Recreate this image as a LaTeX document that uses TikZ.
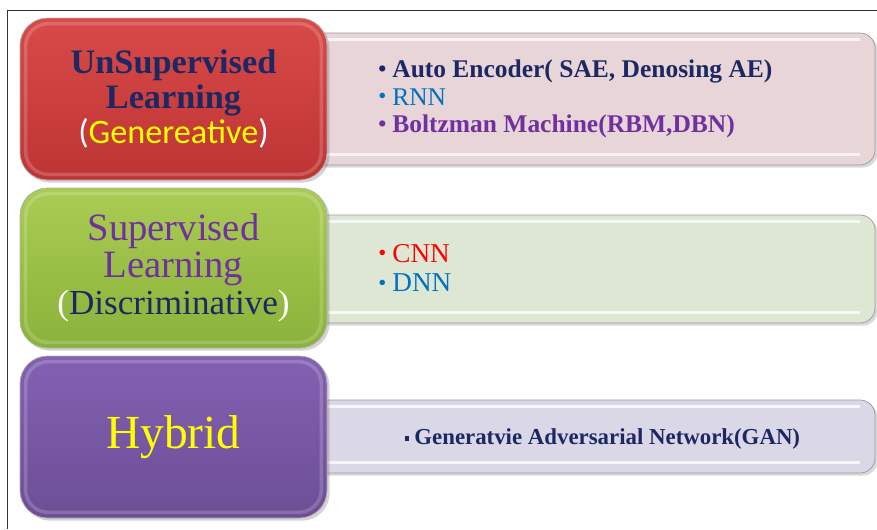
\documentclass[tikz,border=0pt]{standalone}
\usepackage{fontspec}
\setmainfont{Liberation Serif}
\newfontfamily\calibri{Carlito}
\usepackage{xcolor}
\usetikzlibrary{shadows}

\definecolor{navy}{RGB}{28,40,100}
\definecolor{txtblue}{RGB}{0,112,192}
\definecolor{txtpurple}{RGB}{112,48,160}
\definecolor{gelb}{RGB}{255,255,0}
\definecolor{redtop}{RGB}{216,74,72}
\definecolor{redbot}{RGB}{190,52,52}
\definecolor{greentop}{RGB}{170,204,84}
\definecolor{greenbot}{RGB}{138,178,58}
\definecolor{purpletop}{RGB}{132,96,178}
\definecolor{purplebot}{RGB}{108,78,150}
\definecolor{pinkfill}{RGB}{232,213,215}
\definecolor{sagefill}{RGB}{222,231,212}
\definecolor{lavfill}{RGB}{218,216,230}

% bullet item for the lists on the right
\newcommand{\dotitem}[1]{\makebox[0.28cm][l]{\raisebox{0.1ex}{\fontsize{13}{13}\selectfont\textbullet}}#1}

\begin{document}
\begin{tikzpicture}[every node/.style={inner sep=0pt}]
\tikzstyle{catbox}=[rounded corners=0.55cm, minimum width=6.14cm, minimum height=3.24cm, align=center, draw=black!30, drop shadow={opacity=0.35, shadow xshift=1.5pt, shadow yshift=-1.5pt}]
\tikzstyle{listbox}=[rounded corners=0.3cm, minimum width=11.5cm, draw=black!40, drop shadow={opacity=0.3, shadow xshift=1.5pt, shadow yshift=-1.5pt}]
\tikzstyle{items}=[align=left, anchor=west]
\tikzstyle{rim}=[white, opacity=0.18, line width=2pt, rounded corners=0.45cm]
\tikzstyle{bevel}=[white, opacity=0.75, line width=2pt]
\useasboundingbox (0,0) rectangle (17.54,-10.58);
\draw[black!80] (0.14,-10.58) -- (0.14,-0.2) -- (17.54,-0.2);

% lists on the right
\node[listbox, fill=pinkfill, minimum height=2.64cm] (unsuplist) at (11.75,-1.98) {};
\node[listbox, fill=sagefill, minimum height=2.16cm] (suplist) at (11.75,-5.38) {};
\node[listbox, fill=lavfill, minimum height=1.46cm] (hyblist) at (11.75,-8.73) {};
\foreach \b in {unsuplist,suplist,hyblist} {
  \draw[bevel] ([xshift=0.5cm,yshift=-0.14cm]\b.north west) -- ([xshift=-0.3cm,yshift=-0.14cm]\b.north east);
  \draw[bevel] ([xshift=0.5cm,yshift=0.22cm]\b.south west) -- ([xshift=-0.3cm,yshift=0.22cm]\b.south east);
}

\node[items, font=\fontsize{14.5}{15.6}\selectfont] (unsupitems) at (7.56,-1.98) {%
  {\bfseries\color{navy}\dotitem{Auto Encoder( SAE, Denosing AE)}}\\
  {\color{txtblue}\dotitem{RNN}}\\
  {\bfseries\color{txtpurple}\dotitem{Boltzman Machine(RBM,DBN)}}};
\node[items, font=\fontsize{15.5}{17}\selectfont] (supitems) at (7.56,-5.36) {%
  {\color{red}\dotitem{CNN}}\\
  {\color{txtblue}\dotitem{DNN}}};
\node[font=\fontsize{13}{15}\selectfont\bfseries, text=navy] (hybitems) at (12.05,-8.78)
  {\raisebox{0.35ex}{\rule{0.09cm}{0.09cm}}\hspace{0.1cm}Generatvie Adversarial Network(GAN)};

% categories on the left
\node[catbox, top color=redtop, bottom color=redbot, font=\fontsize{19.5}{20}\selectfont] (unsup) at (3.47,-1.98) {%
  \textbf{\color{navy}UnSupervised}\\
  \textbf{\color{navy}Learning}\\
  {\calibri\color{white}(\textcolor{gelb}{Genereative})}};
\node[catbox, top color=greentop, bottom color=greenbot, minimum height=3.2cm, font=\fontsize{22}{21}\selectfont] (sup) at (3.47,-5.36) {%
  \textcolor{txtpurple}{Supervised}\\
  \textcolor{txtpurple}{Learning}\\
  {\fontsize{20}{21}\selectfont\color{white}(\textcolor{navy}{Discriminative})}};
\node[catbox, top color=purpletop, bottom color=purplebot, font=\fontsize{27}{28}\selectfont, text=gelb] (hyb) at (3.47,-8.74) {Hybrid};
\foreach \b in {unsup,sup,hyb}
  \draw[rim] ([xshift=0.12cm,yshift=-0.12cm]\b.north west) rectangle ([xshift=-0.12cm,yshift=0.12cm]\b.south east);
\end{tikzpicture}
\end{document}
